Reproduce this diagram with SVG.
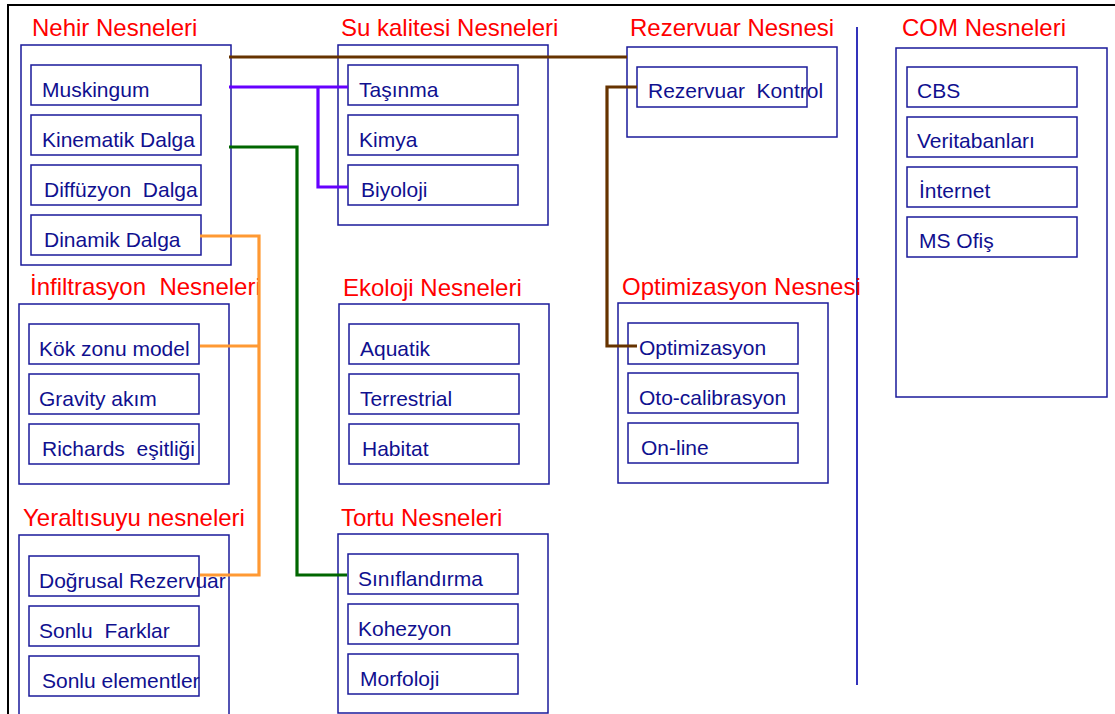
<svg xmlns="http://www.w3.org/2000/svg" width="1115" height="714" viewBox="0 0 1115 714">
<style>
text{white-space:pre}
.frame{fill:none;stroke:#000;stroke-width:2}
.outer{fill:none;stroke:#1a1a9a;stroke-width:1.5}
.inner{fill:#fff;stroke:#1a1a9a;stroke-width:1.5}
.title{font-family:"Liberation Sans",Arial,sans-serif;font-size:24px;fill:#ff0000}
.item{font-family:"Liberation Sans",Arial,sans-serif;font-size:21px;fill:#10108f}
.c{fill:none;stroke-width:3.2;stroke-linejoin:miter}
.brown{stroke:#663300}
.purple{stroke:#6600ff}
.green{stroke:#006600}
.orange{stroke:#ff9933}
</style>
<rect width="1115" height="714" fill="#fff"/>
<path class="frame" d="M8,714 V5 H1115"/>
<line x1="857" y1="27" x2="857" y2="685" stroke="#3333bb" stroke-width="2"/>

<g id="nehir">
<text class="title" x="32" y="36">Nehir Nesneleri</text>
<rect class="outer" x="21" y="45" width="210" height="220"/>
<rect class="inner" x="31" y="65" width="170" height="40"/><text class="item" x="42" y="97">Muskingum</text>
<rect class="inner" x="31" y="115" width="170" height="40"/><text class="item" x="42" y="147">Kinematik Dalga</text>
<rect class="inner" x="31" y="165" width="170" height="40"/><text class="item" x="44" y="197" xml:space="preserve">Diffüzyon  Dalga</text>
<rect class="inner" x="31" y="215" width="170" height="40"/><text class="item" x="44" y="247">Dinamik Dalga</text>
</g>

<g id="sukalitesi">
<text class="title" x="341" y="36">Su kalitesi Nesneleri</text>
<rect class="outer" x="338" y="45" width="210" height="180"/>
<rect class="inner" x="348" y="65" width="170" height="40"/><text class="item" x="359" y="97">Taşınma</text>
<rect class="inner" x="348" y="115" width="170" height="40"/><text class="item" x="359" y="147">Kimya</text>
<rect class="inner" x="348" y="165" width="170" height="40"/><text class="item" x="361" y="197">Biyoloji</text>
</g>

<g id="rezervuar">
<text class="title" x="630" y="36">Rezervuar Nesnesi</text>
<rect class="outer" x="627" y="47" width="210" height="90"/>
<rect class="inner" x="637" y="67" width="170" height="40"/><text class="item" x="648" y="98" xml:space="preserve">Rezervuar  Kontrol</text>
</g>

<g id="com">
<text class="title" x="902" y="36">COM Nesneleri</text>
<rect class="outer" x="896" y="48" width="211" height="349"/>
<rect class="inner" x="907" y="67" width="170" height="40"/><text class="item" x="917" y="98">CBS</text>
<rect class="inner" x="907" y="117" width="170" height="40"/><text class="item" x="917" y="148">Veritabanları</text>
<rect class="inner" x="907" y="167" width="170" height="40"/><text class="item" x="919" y="198">İnternet</text>
<rect class="inner" x="907" y="217" width="170" height="40"/><text class="item" x="919" y="248">MS Ofiş</text>
</g>

<g id="infiltrasyon">
<text class="title" x="30" y="295" xml:space="preserve">İnfiltrasyon  Nesneleri</text>
<rect class="outer" x="19" y="304" width="210" height="180"/>
<rect class="inner" x="29" y="324" width="170" height="40"/><text class="item" x="39" y="356">Kök zonu model</text>
<rect class="inner" x="29" y="374" width="170" height="40"/><text class="item" x="39" y="406">Gravity akım</text>
<rect class="inner" x="29" y="424" width="170" height="40"/><text class="item" x="42" y="456" xml:space="preserve">Richards  eşitliği</text>
</g>

<g id="ekoloji">
<text class="title" x="343" y="296">Ekoloji Nesneleri</text>
<rect class="outer" x="339" y="304" width="210" height="180"/>
<rect class="inner" x="349" y="324" width="170" height="40"/><text class="item" x="360" y="356">Aquatik</text>
<rect class="inner" x="349" y="374" width="170" height="40"/><text class="item" x="360" y="406">Terrestrial</text>
<rect class="inner" x="349" y="424" width="170" height="40"/><text class="item" x="362" y="456">Habitat</text>
</g>

<g id="optimizasyon">
<text class="title" x="622" y="295">Optimizasyon Nesnesi</text>
<rect class="outer" x="618" y="303" width="210" height="180"/>
<rect class="inner" x="628" y="323" width="170" height="41"/><text class="item" x="639" y="355">Optimizasyon</text>
<rect class="inner" x="628" y="373" width="170" height="40"/><text class="item" x="639" y="405">Oto-calibrasyon</text>
<rect class="inner" x="628" y="423" width="170" height="40"/><text class="item" x="641" y="455">On-line</text>
</g>

<g id="yeraltisuyu">
<text class="title" x="23" y="526">Yeraltısuyu nesneleri</text>
<rect class="outer" x="19" y="535" width="210" height="190"/>
<rect class="inner" x="29" y="556" width="170" height="40"/><text class="item" x="39" y="588">Doğrusal Rezervuar</text>
<rect class="inner" x="29" y="606" width="170" height="40"/><text class="item" x="39" y="638" xml:space="preserve">Sonlu  Farklar</text>
<rect class="inner" x="29" y="656" width="170" height="40"/><text class="item" x="42" y="688">Sonlu elementler</text>
</g>

<g id="tortu">
<text class="title" x="341" y="526">Tortu Nesneleri</text>
<rect class="outer" x="338" y="534" width="210" height="179"/>
<rect class="inner" x="348" y="554" width="170" height="40"/><text class="item" x="358" y="586">Sınıflandırma</text>
<rect class="inner" x="348" y="604" width="170" height="40"/><text class="item" x="358" y="636">Kohezyon</text>
<rect class="inner" x="348" y="654" width="170" height="40"/><text class="item" x="360" y="686">Morfoloji</text>
</g>

<g id="connectors">
<path class="c brown" d="M229,57 H627"/>
<path class="c brown" d="M637,87 H607 V346 H637"/>
<path class="c purple" d="M229,87 H348"/>
<path class="c purple" d="M318,87 V187 H348"/>
<path class="c green" d="M229,147 H297 V575 H347"/>
<path class="c orange" d="M200,236 H259 V575 H200"/>
<path class="c orange" d="M200,346 H259"/>
</g>
</svg>
